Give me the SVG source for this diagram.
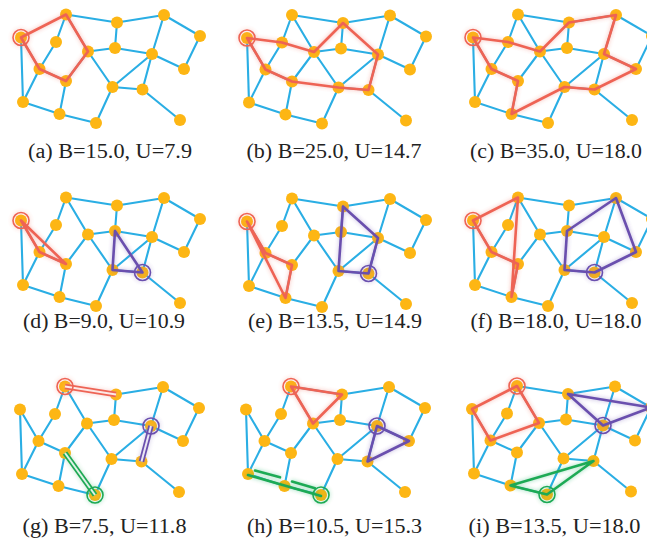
<svg xmlns="http://www.w3.org/2000/svg" xmlns:xlink="http://www.w3.org/1999/xlink" width="647" height="542" viewBox="0 0 647 542">
<style>
.e{stroke:#2aaee4;stroke-width:2.1;fill:none;stroke-linecap:round}
.n{fill:#fdb614}
.ov{fill:none;stroke-width:2.6;stroke-linejoin:round;stroke-linecap:round}
.r{stroke:#ee6454}
.p{stroke:#6a4fae}
.g{stroke:#1faa55}
.dr{stroke:#ee6454;stroke-width:5.5;fill:none}
.dp{stroke:#6a4fae;stroke-width:5.5;fill:none}
.dg{stroke:#1faa55;stroke-width:5.5;fill:none}
.dc{stroke:#ffffff;stroke-width:2;fill:none;opacity:.85}
.c{fill:none;stroke-width:1.6}
</style>
<defs>
<filter id="glow" x="-20%" y="-20%" width="140%" height="140%">
<feGaussianBlur in="SourceGraphic" stdDeviation="2.2" result="b"/>
<feComponentTransfer in="b" result="bl"><feFuncA type="linear" slope="0.45"/></feComponentTransfer>
<feMerge><feMergeNode in="bl"/><feMergeNode in="SourceGraphic"/></feMerge>
</filter>
<g id="net">
<g id="connectors">
<line class="e" x1="66" y1="14.5" x2="117" y2="22.5"/>
<line class="e" x1="117" y1="22.5" x2="164" y2="15"/>
<line class="e" x1="164" y1="15" x2="200" y2="36"/>
<line class="e" x1="21" y1="37.5" x2="23" y2="102"/>
<line class="e" x1="21" y1="37.5" x2="39.5" y2="69"/>
<line class="e" x1="66" y1="14.5" x2="56" y2="42"/>
<line class="e" x1="66" y1="14.5" x2="88" y2="51.5"/>
<line class="e" x1="56" y1="42" x2="39.5" y2="69"/>
<line class="e" x1="39.5" y1="69" x2="23" y2="102"/>
<line class="e" x1="39.5" y1="69" x2="66" y2="81"/>
<line class="e" x1="66" y1="81" x2="88" y2="51.5"/>
<line class="e" x1="66" y1="81" x2="59.5" y2="114"/>
<line class="e" x1="23" y1="102" x2="59.5" y2="114"/>
<line class="e" x1="59.5" y1="114" x2="96" y2="123"/>
<line class="e" x1="96" y1="123" x2="112.5" y2="87"/>
<line class="e" x1="88" y1="51.5" x2="112.5" y2="87"/>
<line class="e" x1="88" y1="51.5" x2="115" y2="48"/>
<line class="e" x1="115" y1="48" x2="117" y2="22.5"/>
<line class="e" x1="115" y1="48" x2="152" y2="54"/>
<line class="e" x1="152" y1="54" x2="164" y2="15"/>
<line class="e" x1="152" y1="54" x2="184" y2="69"/>
<line class="e" x1="184" y1="69" x2="200" y2="36"/>
<line class="e" x1="152" y1="54" x2="112.5" y2="87"/>
<line class="e" x1="152" y1="54" x2="142.5" y2="89.5"/>
<line class="e" x1="112.5" y1="87" x2="142.5" y2="89.5"/>
<line class="e" x1="142.5" y1="89.5" x2="180" y2="120"/>
</g>
<g id="n1"><circle class="n" cx="21" cy="37.5" r="6"/></g>
<g id="n2"><circle class="n" cx="66" cy="14.5" r="6"/></g>
<g id="n3"><circle class="n" cx="117" cy="22.5" r="6"/></g>
<g id="n4"><circle class="n" cx="164" cy="15" r="6"/></g>
<g id="n5"><circle class="n" cx="200" cy="36" r="6"/></g>
<g id="n6"><circle class="n" cx="56" cy="42" r="6"/></g>
<g id="n7"><circle class="n" cx="88" cy="51.5" r="6"/></g>
<g id="n8"><circle class="n" cx="115" cy="48" r="6"/></g>
<g id="n9"><circle class="n" cx="152" cy="54" r="6"/></g>
<g id="n10"><circle class="n" cx="184" cy="69" r="6"/></g>
<g id="n11"><circle class="n" cx="39.5" cy="69" r="6"/></g>
<g id="n12"><circle class="n" cx="66" cy="81" r="6"/></g>
<g id="n13"><circle class="n" cx="112.5" cy="87" r="6"/></g>
<g id="n14"><circle class="n" cx="142.5" cy="89.5" r="6"/></g>
<g id="n15"><circle class="n" cx="23" cy="102" r="6"/></g>
<g id="n16"><circle class="n" cx="59.5" cy="114" r="6"/></g>
<g id="n17"><circle class="n" cx="96" cy="123" r="6"/></g>
<g id="n18"><circle class="n" cx="180" cy="120" r="6"/></g>
</g>
</defs>

<g id="panel-a" transform="translate(0,0)">
<use href="#net"/>
<g filter="url(#glow)">
<polyline class="ov r" points="21,37.5 66,14.5 88,51.5 66,81 39.5,69 21,37.5"/>
<circle class="c r" cx="21" cy="37.5" r="8"/>
</g>
</g>
<g id="panel-b" transform="translate(226,0.5)">
<use href="#net"/>
<g filter="url(#glow)">
<polyline class="ov r" points="21,37.5 56,42 88,51.5 117,22.5 152,54 142.5,89.5 112.5,87 66,81 39.5,69 21,37.5"/>
<circle class="c r" cx="21" cy="37.5" r="8"/>
</g>
</g>
<g id="panel-c" transform="translate(452,0)">
<use href="#net"/>
<g filter="url(#glow)">
<polyline class="ov r" points="21,37.5 56,42 88,51.5 117,22.5 164,15 152,54 184,69 142.5,89.5 112.5,87 59.5,114 66,81 39.5,69 21,37.5"/>
<circle class="c r" cx="21" cy="37.5" r="8"/>
</g>
</g>

<g id="panel-d" transform="translate(0,183)">
<use href="#net"/>
<g filter="url(#glow)">
<polyline class="ov r" points="21,37.5 39.5,69 66,81 21,37.5"/>
<circle class="c r" cx="21" cy="37.5" r="8"/>
<polyline class="ov p" points="115,48 112.5,87 142.5,89.5 115,48"/>
<circle class="c p" cx="142.5" cy="89.5" r="8"/>
</g>
</g>
<g id="panel-e" transform="translate(226,184)">
<use href="#net"/>
<g filter="url(#glow)">
<polyline class="ov r" points="21,37.5 39.5,69 66,81 59.5,114 21,37.5"/>
<circle class="c r" cx="21" cy="37.5" r="8"/>
<polyline class="ov p" points="117,22.5 112.5,87 142.5,89.5 152,54 117,22.5"/>
<circle class="c p" cx="142.5" cy="89.5" r="8"/>
</g>
</g>
<g id="panel-f" transform="translate(452,183)">
<use href="#net"/>
<g filter="url(#glow)">
<polyline class="ov r" points="21,37.5 66,14.5 59.5,114 66,81 39.5,69 21,37.5"/>
<circle class="c r" cx="21" cy="37.5" r="8"/>
<polyline class="ov p" points="115,48 164,15 184,69 142.5,89.5 112.5,87 115,48"/>
<circle class="c p" cx="142.5" cy="89.5" r="8"/>
</g>
</g>

<g id="panel-g" transform="translate(-1,372)">
<use href="#net"/>
<g filter="url(#glow)">
<line class="dr" x1="66" y1="14.5" x2="117" y2="22.5"/>
<line class="dc" x1="66" y1="14.5" x2="117" y2="22.5"/>
<circle class="c r" cx="66" cy="14.5" r="8"/>
<line class="dp" x1="152" y1="54" x2="142.5" y2="89.5"/>
<line class="dc" x1="152" y1="54" x2="142.5" y2="89.5"/>
<circle class="c p" cx="152" cy="54" r="8"/>
<line class="dg" x1="66" y1="81" x2="96" y2="123"/>
<line class="dc" x1="66" y1="81" x2="96" y2="123"/>
<circle class="c g" cx="96" cy="123" r="8"/>
</g>
</g>
<g id="panel-h" transform="translate(225,372)">
<use href="#net"/>
<g filter="url(#glow)">
<polyline class="ov r" points="66,14.5 117,22.5 88,51.5 66,14.5"/>
<circle class="c r" cx="66" cy="14.5" r="8"/>
<polyline class="ov p" points="152,54 184,69 142.5,89.5 152,54"/>
<circle class="c p" cx="152" cy="54" r="8"/>
<line class="ov g" x1="23" y1="103" x2="96" y2="124"/>
<line class="ov g" x1="30" y1="98.5" x2="55" y2="105.3"/>
<line class="ov g" x1="67" y1="109.5" x2="90" y2="116.3"/>
<circle class="c g" cx="96" cy="123" r="8"/>
</g>
</g>
<g id="panel-i" transform="translate(451,371.5)">
<use href="#net"/>
<g filter="url(#glow)">
<polyline class="ov r" points="66,14.5 88,51.5 39.5,69 21,37.5 66,14.5"/>
<circle class="c r" cx="66" cy="14.5" r="8"/>
<polyline class="ov p" points="117,22.5 200,36 152,54 117,22.5"/>
<circle class="c p" cx="152" cy="54" r="8"/>
<polyline class="ov g" points="142.5,89.5 59.5,114 96,123 142.5,89.5"/>
<circle class="c g" cx="96" cy="123" r="8"/>
</g>
</g>

<g id="labels" font-family="'Liberation Serif', 'Times New Roman', serif" font-size="20" fill="#222" text-anchor="middle">
<text x="110" y="158" textLength="164" lengthAdjust="spacingAndGlyphs">(a) B=15.0, U=7.9</text>
<text x="334" y="158" textLength="175" lengthAdjust="spacingAndGlyphs">(b) B=25.0, U=14.7</text>
<text x="556" y="158" textLength="172" lengthAdjust="spacingAndGlyphs">(c) B=35.0, U=18.0</text>
<text x="104" y="328" textLength="162" lengthAdjust="spacingAndGlyphs">(d) B=9.0, U=10.9</text>
<text x="335" y="328" textLength="174" lengthAdjust="spacingAndGlyphs">(e) B=13.5, U=14.9</text>
<text x="556" y="328" textLength="171" lengthAdjust="spacingAndGlyphs">(f) B=18.0, U=18.0</text>
<text x="104.5" y="533" textLength="164" lengthAdjust="spacingAndGlyphs">(g) B=7.5, U=11.8</text>
<text x="334.5" y="533" textLength="175" lengthAdjust="spacingAndGlyphs">(h) B=10.5, U=15.3</text>
<text x="554.5" y="533" textLength="172" lengthAdjust="spacingAndGlyphs">(i) B=13.5, U=18.0</text>
</g>
</svg>
